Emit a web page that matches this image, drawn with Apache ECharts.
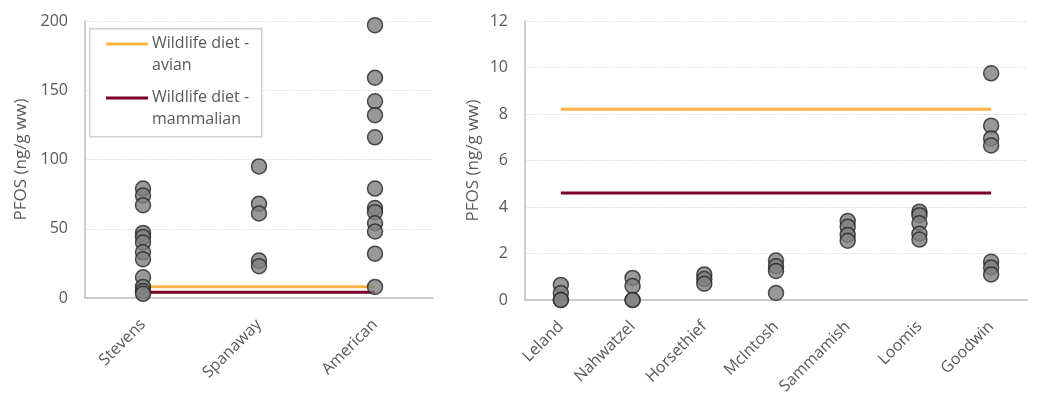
<!DOCTYPE html>
<html>
<head>
<meta charset="utf-8">
<script src="https://cdn.jsdelivr.net/npm/echarts@6/dist/echarts.min.js"></script>
<style>
html,body{margin:0;padding:0;background:#fff;}
#c{width:1050px;height:420px;}
</style>
</head>
<body>
<div id="c"></div>
<script>
// ---- data ----
const leftCategories = ['Stevens', 'Spanaway', 'American'];
const stevens = [79, 74, 67, 47, 44, 40, 33, 28, 15, 8, 5, 3];
const spanaway = [95, 68, 61, 27, 23];
const american = [197, 159, 142, 132, 116, 79, 65, 62, 54, 48, 32, 8];
const leftValues = [stevens, spanaway, american];

const rightCategories = ['Leland', 'Nahwatzel', 'Horsethief', 'McIntosh', 'Sammamish', 'Loomis', 'Goodwin'];
const leland = [0.65, 0.3, 0, 0];
const nahwatzel = [0.95, 0.6, 0, 0];
const horsethief = [1.1, 0.9, 0.7];
const mcintosh = [1.7, 1.45, 1.25, 0.3];
const sammamish = [3.4, 3.15, 2.8, 2.55];
const loomis = [3.8, 3.65, 3.3, 2.85, 2.6];
const goodwin = [9.75, 7.5, 6.95, 6.65, 1.65, 1.4, 1.1];
const rightValues = [leland, nahwatzel, horsethief, mcintosh, sammamish, loomis, goodwin];

const avianLeft = 8.2, mammalianLeft = 4.1;
const avianRight = 8.2, mammalianRight = 4.6;

const leftTicks = {min: 0, max: 200, interval: 50};
const rightTicks = {min: 0, max: 12, interval: 2};
const yAxisTitle = 'PFOS (ng/g ww)';
const legendNames = ['Wildlife diet -\navian', 'Wildlife diet -\nmammalian'];

// ---- styles ----
const FONT = 'Open Sans';
const TXT = '#595959';
const AVIAN = '#ffb347';
const MAMMAL = '#7f0026';

function pts(values) {
  const out = [];
  values.forEach((arr, i) => arr.forEach(v => out.push([i, v])));
  return out;
}
function flat(n, v) { return Array.from({length: n}, () => v); }

function xAxis(idx, cats) {
  return {
    type: 'category', gridIndex: idx, data: cats, boundaryGap: true,
    axisLine: {show: true, lineStyle: {color: '#bfbfbf', width: 1.5}},
    axisTick: {show: false},
    axisLabel: {rotate: 45, color: TXT, fontFamily: FONT, fontSize: 16, margin: 24, interval: 0},
    splitLine: {show: false}
  };
}
function yAxis(idx, t, gap) {
  return {
    type: 'value', gridIndex: idx, min: t.min, max: t.max, interval: t.interval,
    name: yAxisTitle, nameLocation: 'middle', nameGap: gap, nameRotate: 90,
    nameTextStyle: {color: TXT, fontFamily: FONT, fontSize: 17},
    axisLine: {show: true, lineStyle: {color: '#bfbfbf', width: 1.5}},
    axisTick: {show: false},
    axisLabel: {color: TXT, fontFamily: FONT, fontSize: 16, margin: 17},
    splitLine: {show: true, lineStyle: {color: '#d9d9d9', type: 'dotted', width: 1.2}}
  };
}
const markerStyle = {color: '#808080', borderColor: '#262626', borderWidth: 1.5};

const chart = echarts.init(document.getElementById('c'));
chart.setOption({
  animation: false,
  backgroundColor: '#fff',
  grid: [
    {left: 85, top: 21, width: 348, height: 277},
    {left: 525, top: 21, width: 502, height: 279}
  ],
  xAxis: [xAxis(0, leftCategories), xAxis(1, rightCategories)],
  yAxis: [yAxis(0, leftTicks, 55), yAxis(1, rightTicks, 43)],
  series: [
    {name: 'Wildlife diet - avian', type: 'line', xAxisIndex: 0, yAxisIndex: 0,
     data: flat(leftCategories.length, avianLeft), showSymbol: false, symbol: 'none',
     lineStyle: {color: AVIAN, width: 3}, z: 2},
    {name: 'Wildlife diet - mammalian', type: 'line', xAxisIndex: 0, yAxisIndex: 0,
     data: flat(leftCategories.length, mammalianLeft), showSymbol: false, symbol: 'none',
     lineStyle: {color: MAMMAL, width: 3}, z: 2},
    {name: 'PFOS', type: 'scatter', xAxisIndex: 0, yAxisIndex: 0,
     data: pts(leftValues), symbolSize: 15, itemStyle: markerStyle, z: 3},
    {name: 'Wildlife diet - avian', type: 'line', xAxisIndex: 1, yAxisIndex: 1,
     data: flat(rightCategories.length, avianRight), showSymbol: false, symbol: 'none',
     lineStyle: {color: AVIAN, width: 3}, z: 2},
    {name: 'Wildlife diet - mammalian', type: 'line', xAxisIndex: 1, yAxisIndex: 1,
     data: flat(rightCategories.length, mammalianRight), showSymbol: false, symbol: 'none',
     lineStyle: {color: MAMMAL, width: 3}, z: 2},
    {name: 'PFOS', type: 'scatter', xAxisIndex: 1, yAxisIndex: 1,
     data: pts(rightValues), symbolSize: 15, itemStyle: markerStyle, z: 3}
  ],
  graphic: [
    {type: 'rect', left: 89, top: 28, shape: {width: 172, height: 108},
     style: {fill: '#fff', stroke: '#d0d0d0', lineWidth: 1.5}, z: 10},
    {type: 'line', shape: {x1: 106, y1: 44, x2: 148, y2: 44},
     style: {stroke: AVIAN, lineWidth: 3}, z: 11},
    {type: 'text', left: 152, top: 32,
     style: {text: legendNames[0], fill: TXT, font: '16px "Open Sans"', lineHeight: 22}, z: 11},
    {type: 'line', shape: {x1: 106, y1: 98, x2: 148, y2: 98},
     style: {stroke: MAMMAL, lineWidth: 3}, z: 11},
    {type: 'text', left: 152, top: 86,
     style: {text: legendNames[1], fill: TXT, font: '16px "Open Sans"', lineHeight: 22}, z: 11}
  ]
});
</script>
</body>
</html>
